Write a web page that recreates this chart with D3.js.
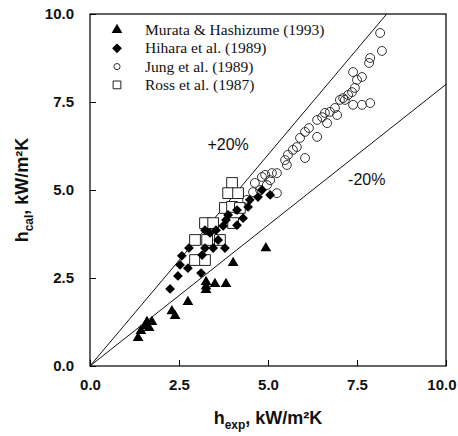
<!DOCTYPE html>
<html>
<head>
<meta charset="utf-8">
<script src="https://cdn.jsdelivr.net/npm/d3@7"></script>
<style>
  body { margin: 0; background: #fff; }
  svg { display: block; }
</style>
</head>
<body>
<div id="chart"></div>
<script>
// h_exp, h_cal pairs (kW/m2K)
const murata = [
  [1.35, 0.80], [1.43, 1.00], [1.55, 1.14], [1.66, 1.08], [1.74, 1.25], [1.60, 1.25],
  [2.30, 1.56], [2.39, 1.42], [2.75, 1.82], [3.26, 2.39], [3.26, 2.16], [3.26, 2.26],
  [3.51, 2.33], [3.82, 2.33], [4.02, 2.93], [4.94, 3.35]
];
const hihara = [
  [2.25, 2.19], [2.47, 2.56], [2.53, 2.87], [2.75, 2.78], [2.58, 3.13], [2.78, 3.35],
  [3.15, 3.15], [3.12, 2.64], [3.23, 3.35], [3.46, 3.35], [3.79, 3.35], [3.37, 3.78],
  [3.54, 3.86], [3.60, 3.58], [3.23, 3.86], [3.82, 4.15], [3.74, 3.98], [3.88, 4.29],
  [4.13, 4.43], [4.30, 4.20], [4.13, 4.00], [4.44, 4.52], [4.49, 4.72], [4.72, 4.80],
  [4.83, 5.00], [5.06, 4.86]
];
const jung = [
  [8.15, 9.46], [8.20, 8.95], [7.87, 8.75], [7.84, 8.61], [7.39, 8.35], [7.64, 8.21],
  [7.50, 8.13], [7.44, 7.90], [7.36, 7.78], [7.25, 7.70], [7.11, 7.61], [7.02, 7.56],
  [6.88, 7.33], [6.74, 7.22], [6.60, 7.19], [7.39, 7.42], [7.64, 7.42], [7.87, 7.47],
  [6.94, 7.13], [6.52, 7.07], [6.38, 6.99], [6.66, 6.90], [6.04, 6.65], [6.38, 6.51],
  [5.90, 6.48], [5.81, 6.22], [5.70, 6.14], [5.56, 6.00], [6.04, 5.91], [5.48, 5.85],
  [5.53, 5.71], [5.25, 5.48], [4.92, 5.43], [4.83, 5.37], [5.06, 5.28], [5.11, 5.48],
  [4.97, 5.14], [5.25, 4.91], [4.63, 5.20], [4.58, 4.94], [4.41, 4.72], [4.78, 5.00],
  [7.16, 7.56], [6.15, 6.76]
];
const ross = [
  [3.99, 5.20], [3.88, 4.91], [4.16, 4.91], [3.79, 4.49], [3.99, 4.52], [4.21, 4.49],
  [3.23, 4.06], [3.46, 4.06], [4.02, 4.06], [2.95, 3.58], [3.29, 3.58], [3.65, 3.58],
  [2.95, 3.01], [3.23, 3.01]
];
const ticks = [0, 2.5, 5, 7.5, 10];
const bands = [1.2, 0.8]; // +20% / -20%
const legendLabels = ['Murata & Hashizume (1993)', 'Hihara et al. (1989)', 'Jung et al. (1989)', 'Ross et al. (1987)'];

const width = 458, height = 436;
const margin = { top: 14, right: 12, bottom: 70, left: 90 };

const svg = d3.select('#chart').append('svg')
  .attr('width', width)
  .attr('height', height);

const x = d3.scaleLinear().domain([0, 10]).range([margin.left, width - margin.right]);
const y = d3.scaleLinear().domain([0, 10]).range([height - margin.bottom, margin.top]);

const sans = 'Liberation Sans, Arial, sans-serif';
const serif = 'Liberation Serif, Times New Roman, serif';

// frame
svg.append('rect')
  .attr('x', x(0)).attr('y', y(10))
  .attr('width', x(10) - x(0)).attr('height', y(0) - y(10))
  .attr('fill', 'none').attr('stroke', '#111').attr('stroke-width', 1.3);

// axes with inward ticks
const fmt = d3.format('.1f');
svg.append('g')
  .attr('transform', `translate(0,${y(0)})`)
  .call(d3.axisBottom(x).tickValues(ticks).tickFormat(fmt).tickSizeInner(-6).tickSizeOuter(0).tickPadding(13))
  .call(g => g.select('.domain').remove())
  .call(g => g.selectAll('text').attr('font-family', sans).attr('font-weight', 'bold').attr('font-size', 15).attr('fill', '#111'))
  .call(g => g.selectAll('.tick').filter(d => d === 10).select('text').attr('text-anchor', 'end').attr('dx', 10));

svg.append('g')
  .attr('transform', `translate(${x(0)},0)`)
  .call(d3.axisLeft(y).tickValues(ticks).tickFormat(fmt).tickSizeInner(-6).tickSizeOuter(0).tickPadding(16))
  .call(g => g.select('.domain').remove())
  .call(g => g.selectAll('text').attr('font-family', sans).attr('font-weight', 'bold').attr('font-size', 15).attr('fill', '#111'));

// +/-20% lines
const clipped = k => k >= 1 ? [[0, 0], [10 / k, 10]] : [[0, 0], [10, 10 * k]];
svg.selectAll('.band')
  .data(bands)
  .join('line')
  .attr('class', 'band')
  .attr('x1', d => x(clipped(d)[0][0])).attr('y1', d => y(clipped(d)[0][1]))
  .attr('x2', d => x(clipped(d)[1][0])).attr('y2', d => y(clipped(d)[1][1]))
  .attr('stroke', '#111').attr('stroke-width', 1);

svg.append('text')
  .attr('x', x(3.3)).attr('y', y(6.15))
  .attr('font-family', sans).attr('font-size', 16).attr('fill', '#111')
  .text('+20%');
svg.append('text')
  .attr('x', x(7.25)).attr('y', y(5.15))
  .attr('font-family', sans).attr('font-size', 16).attr('fill', '#111')
  .text('-20%');

// markers
const sym = {
  triangle: d3.symbol().type(d3.symbolTriangle).size(50),
  diamond: d3.symbol().type(d3.symbolSquare).size(48),
  circle: d3.symbol().type(d3.symbolCircle).size(62),
  square: d3.symbol().type(d3.symbolSquare).size(115)
};

function drawSeries(data, kind, cls) {
  const pts = svg.append('g').selectAll('path.' + cls)
    .data(data)
    .join('path')
    .attr('class', cls)
    .attr('d', sym[kind]());
  if (kind === 'diamond') {
    pts.attr('transform', d => `translate(${x(d[0])},${y(d[1])}) rotate(45)`).attr('fill', '#000');
  } else if (kind === 'triangle') {
    pts.attr('transform', d => `translate(${x(d[0])},${y(d[1])})`).attr('fill', '#000');
  } else {
    pts.attr('transform', d => `translate(${x(d[0])},${y(d[1])})`)
      .attr('fill', kind === 'square' ? '#fff' : 'none')
      .attr('stroke', kind === 'circle' ? '#333' : '#222')
      .attr('stroke-width', 1);
  }
}

drawSeries(ross, 'square', 'ross');
drawSeries(jung, 'circle', 'jung');
drawSeries(hihara, 'diamond', 'hihara');
drawSeries(murata, 'triangle', 'murata');

// legend
const legendKinds = ['triangle', 'diamond', 'circle', 'square'];
const legend = svg.append('g').attr('transform', 'translate(117,30)');
legendKinds.forEach((k, i) => {
  const row = legend.append('g').attr('transform', `translate(0,${i * 18.3})`);
  const p = row.append('path');
  if (k === 'diamond') {
    p.attr('d', sym.diamond()).attr('transform', 'rotate(45)').attr('fill', '#000');
  } else if (k === 'triangle') {
    p.attr('d', sym.triangle()).attr('fill', '#000');
  } else if (k === 'circle') {
    p.attr('d', d3.symbol().type(d3.symbolCircle).size(30)()).attr('fill', 'none').attr('stroke', '#333');
  } else {
    p.attr('d', d3.symbol().type(d3.symbolSquare).size(60)()).attr('fill', 'none').attr('stroke', '#222');
  }
  row.append('text')
    .attr('x', 28).attr('y', 5)
    .attr('font-family', serif).attr('font-size', 15.5).attr('fill', '#111')
    .text(legendLabels[i]);
});

// axis titles
const xt = svg.append('text')
  .attr('x', (x(0) + x(10)) / 2).attr('y', 424)
  .attr('text-anchor', 'middle')
  .attr('font-family', sans).attr('font-weight', 'bold').attr('font-size', 18).attr('fill', '#111');
xt.append('tspan').text('h');
xt.append('tspan').attr('dy', 5).attr('font-size', 12).text('exp');
xt.append('tspan').attr('dy', -5).text(', kW/m²K');

const yt = svg.append('text')
  .attr('transform', `translate(28,${(y(0) + y(10)) / 2}) rotate(-90)`)
  .attr('text-anchor', 'middle')
  .attr('font-family', sans).attr('font-weight', 'bold').attr('font-size', 18).attr('fill', '#111');
yt.append('tspan').text('h');
yt.append('tspan').attr('dy', 5).attr('font-size', 12).text('cal');
yt.append('tspan').attr('dy', -5).text(', kW/m²K');
</script>
</body>
</html>
